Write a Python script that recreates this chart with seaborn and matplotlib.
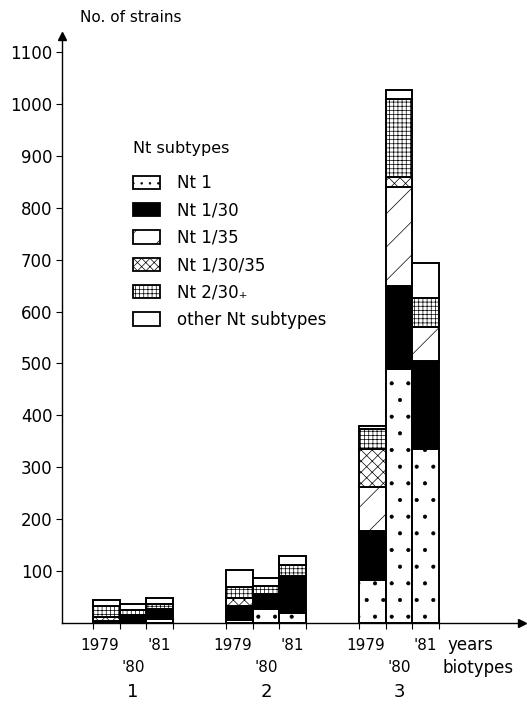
import numpy as np
import pandas as pd
import matplotlib
matplotlib.use("Agg")
import matplotlib.pyplot as plt
from matplotlib.patches import Patch
import seaborn as sns

# ---------------- data ----------------
biotypes = ["1", "2", "3"]
years = ["1979", "'80", "'81"]
subtypes = ["Nt 1", "Nt 1/30", "Nt 1/35", "Nt 1/30/35", "Nt 2/30₊", "other Nt subtypes"]
# bars in order: biotype1 (1979,'80,'81), biotype2 (...), biotype3 (...)
nt1 = [3, 0, 8, 6, 27, 20, 82, 490, 335]
nt1_30 = [0, 15, 19, 27, 29, 70, 95, 160, 170]
nt1_35 = [0, 0, 0, 0, 0, 0, 86, 190, 65]
nt1_30_35 = [9, 0, 0, 15, 0, 0, 72, 20, 0]
nt2_30 = [20, 10, 10, 22, 15, 21, 38, 150, 57]
other = [12, 12, 12, 33, 16, 19, 7, 17, 66]
yticks = [100, 200, 300, 400, 500, 600, 700, 800, 900, 1000, 1100]

series = [nt1, nt1_30, nt1_35, nt1_30_35, nt2_30, other]
group_gap = 5
positions = [g * group_gap + k - 1 for g in range(len(biotypes)) for k in range(len(years))]

rows = []
for name, vals in zip(subtypes, series):
    for p, v in zip(positions, vals):
        rows.append({"pos": p, "subtype": name, "count": v})
df = pd.DataFrame(rows)

styles = {
    "Nt 1": dict(facecolor="white", hatch="."),
    "Nt 1/30": dict(facecolor="black", hatch=None),
    "Nt 1/35": dict(facecolor="white", hatch="/"),
    "Nt 1/30/35": dict(facecolor="white", hatch="xxx"),
    "Nt 2/30₊": dict(facecolor="white", hatch="++++"),
    "other Nt subtypes": dict(facecolor="white", hatch=None),
}
legend_hatch = {"Nt 1": "..", "Nt 1/30/35": "xxxx"}

# ---------------- figure ----------------
sns.set_style("ticks")
plt.rcParams["font.family"] = ["DejaVu Sans"]
plt.rcParams["hatch.linewidth"] = 0.5
plt.rcParams["hatch.color"] = "black"
for k in ("text.color", "xtick.color", "ytick.color", "axes.labelcolor"):
    plt.rcParams[k] = "black"

W, H = 527, 706
fig = plt.figure(figsize=(W / 100, H / 100), dpi=100)
ax = fig.add_axes([62 / W, (H - 623) / H, (522 - 62) / W, (623 - 36) / H])

key_colors = {s: (0.1 + 0.1 * i, 0.2, 0.3) for i, s in enumerate(subtypes)}
sns.histplot(data=df, x="pos", weights="count", hue="subtype",
             hue_order=subtypes[::-1], multiple="stack", discrete=True,
             shrink=1, palette=key_colors, alpha=1, edgecolor="black",
             linewidth=1.4, legend=False, ax=ax)

def nearest_subtype(fc):
    best, bd = None, 1e9
    for s, c in key_colors.items():
        d = sum((a - b) ** 2 for a, b in zip(fc[:3], c))
        if d < bd:
            best, bd = s, d
    return best

for p in list(ax.patches):
    if p.get_height() <= 0:
        p.set_visible(False)
        continue
    s = nearest_subtype(p.get_facecolor())
    st = styles[s]
    p.set_facecolor(st["facecolor"])
    p.set_hatch(st["hatch"])
    p.set_edgecolor("black")

ax.set_xlim(-2.67, 14.62)
ax.set_ylim(0, 1131)
ax.set_xlabel("")
ax.set_ylabel("")
sns.despine(ax=ax)
for sp in ("left", "bottom"):
    ax.spines[sp].set_linewidth(1.0)
    ax.spines[sp].set_color("black")

ax.set_yticks(yticks)
ax.set_yticklabels([str(t) for t in yticks], fontsize=12)
ax.tick_params(axis="y", direction="out", length=4, width=0.8, pad=3)

edges = sorted({p - 0.5 for p in positions} | {p + 0.5 for p in positions})
ax.set_xticks(edges)
ax.set_xticklabels([])
ax.tick_params(axis="x", direction="inout", length=8, width=0.8)

# arrows on axes
ax.plot(1, 0, marker=">", color="black", markersize=6, transform=ax.transAxes, clip_on=False)
ax.plot(0, 1, marker="^", color="black", markersize=6, transform=ax.transAxes, clip_on=False)

pt = 0.72  # points per pixel at dpi 100
for g, b in enumerate(biotypes):
    base = g * group_gap
    ax.annotate(years[0], xy=(base - 1.25, 0), xytext=(0, -22 * pt), textcoords="offset points",
                ha="center", va="center", fontsize=11)
    ax.annotate(years[2], xy=(base + 1, 0), xytext=(0, -22 * pt), textcoords="offset points",
                ha="center", va="center", fontsize=11)
    ax.annotate(years[1], xy=(base, 0), xytext=(0, -45 * pt), textcoords="offset points",
                ha="center", va="center", fontsize=11)
    ax.annotate(b, xy=(base, 0), xytext=(0, -69 * pt), textcoords="offset points",
                ha="center", va="center", fontsize=13)

ax.annotate("years", xy=(11.8, 0), xytext=(0, -22 * pt), textcoords="offset points",
            ha="left", va="center", fontsize=12)
ax.annotate("biotypes", xy=(11.65, 0), xytext=(0, -45 * pt), textcoords="offset points",
            ha="left", va="center", fontsize=12)

fig.text(80 / W, 1 - 18 / H, "No. of strains", ha="left", va="center", fontsize=11)
fig.text(133 / W, 1 - 148 / H, "Nt subtypes", ha="left", va="center", fontsize=11.5)

handles = [Patch(facecolor=styles[s]["facecolor"],
                 hatch=legend_hatch.get(s, styles[s]["hatch"]),
                 edgecolor="black", linewidth=1.3) for s in subtypes]
leg = ax.legend(handles, subtypes, loc="upper left",
                bbox_to_anchor=(133 / W, 1 - 174 / H), bbox_transform=fig.transFigure,
                frameon=False, fontsize=12, borderpad=0,
                borderaxespad=0, handlelength=1.62, handleheight=0.85,
                handletextpad=1.0, labelspacing=0.56)

fig.savefig("out.png", dpi=100)
